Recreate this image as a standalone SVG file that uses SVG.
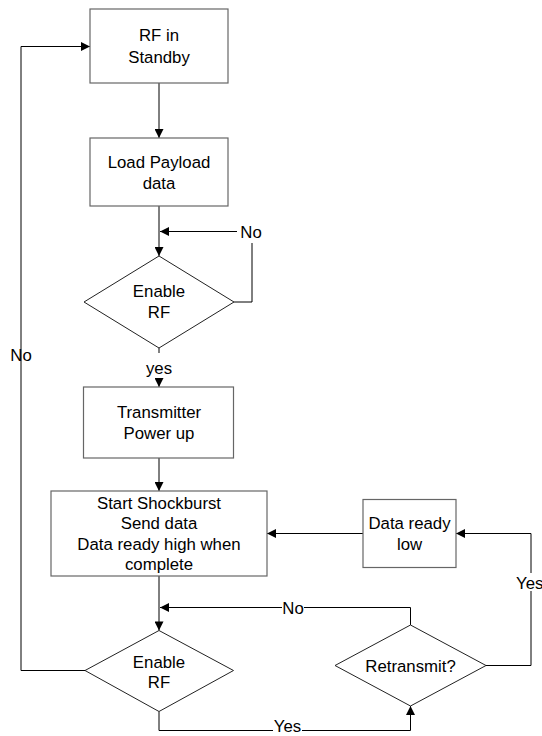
<svg xmlns="http://www.w3.org/2000/svg" width="542" height="736" viewBox="0 0 542 736">
  <style>
    .box { fill: #ffffff; stroke: #666666; stroke-width: 1.2; }
    .dia { fill: #ffffff; stroke: #222222; stroke-width: 1; }
    .wire { fill: none; stroke: #000000; stroke-width: 1; }
    text { font-family: "Liberation Sans", Arial, sans-serif; font-size: 16.8px; fill: #000000; text-anchor: middle; }
  </style>
  <defs>
    <marker id="arrow" viewBox="0 0 10 10" refX="10" refY="5" markerWidth="10" markerHeight="9" markerUnits="userSpaceOnUse" orient="auto">
      <path d="M0,0 L10,5 L0,10 z" fill="#000000"/>
    </marker>
  </defs>
  <rect width="542" height="736" fill="#ffffff"/>

  <g id="connectors">
    <!-- standby to payload -->
    <path class="wire" d="M159,83 V138" marker-end="url(#arrow)"/>
    <!-- payload to enable RF -->
    <path class="wire" d="M159,206 V256" marker-end="url(#arrow)"/>
    <!-- enable RF "No" loop -->
    <path class="wire" d="M234,302 H252 V243"/>
    <path class="wire" d="M237,231.5 H160" marker-end="url(#arrow)"/>
    <!-- enable RF yes to transmitter -->
    <path class="wire" d="M159,348 V353"/>
    <path class="wire" d="M159,379 V387" marker-end="url(#arrow)"/>
    <!-- transmitter to shockburst -->
    <path class="wire" d="M159,458 V491" marker-end="url(#arrow)"/>
    <!-- shockburst to second enable RF -->
    <path class="wire" d="M159,576 V630.5" marker-end="url(#arrow)"/>
    <!-- retransmit "No" -->
    <path class="wire" d="M410.5,625 V607.5 H304"/>
    <path class="wire" d="M282,607.5 H160" marker-end="url(#arrow)"/>
    <!-- enable RF "No" back to standby -->
    <path class="wire" d="M85,670.5 H21 V46.5 H90" marker-end="url(#arrow)"/>
    <!-- enable RF "Yes" to retransmit -->
    <path class="wire" d="M159,711.5 V730.5 H273"/>
    <path class="wire" d="M302,730.5 H410.5 V706" marker-end="url(#arrow)"/>
    <!-- retransmit "Yes" to data ready low -->
    <path class="wire" d="M486,665.5 H531 V591"/>
    <path class="wire" d="M531,573 V533.5 H456" marker-end="url(#arrow)"/>
    <!-- data ready low to shockburst -->
    <path class="wire" d="M363,533.5 H267" marker-end="url(#arrow)"/>
  </g>

  <g id="labels">
    <text x="251" y="237.5">No</text>
    <text x="159" y="374">yes</text>
    <text x="293" y="613.5">No</text>
    <text x="287.5" y="732">Yes</text>
    <text x="516" y="589" style="text-anchor:start">Yes</text>
    <text x="21" y="361">No</text>
  </g>

  <g id="rf-standby">
    <rect class="box" x="90" y="9" width="138" height="74"/>
    <text x="159" y="41">RF in</text>
    <text x="159" y="63">Standby</text>
  </g>

  <g id="load-payload">
    <rect class="box" x="90" y="138" width="138" height="68"/>
    <text x="159" y="168">Load Payload</text>
    <text x="159" y="189">data</text>
  </g>

  <g id="enable-rf-1">
    <polygon class="dia" points="159,256 234,302 159,348 84,302"/>
    <text x="159" y="297">Enable</text>
    <text x="159" y="318">RF</text>
  </g>

  <g id="transmitter">
    <rect class="box" x="83.5" y="387" width="150" height="71"/>
    <text x="159" y="418">Transmitter</text>
    <text x="159" y="439">Power up</text>
  </g>

  <g id="shockburst">
    <rect class="box" x="51" y="491" width="216" height="85"/>
    <text x="159" y="509">Start Shockburst</text>
    <text x="159" y="529">Send data</text>
    <text x="159" y="549.5">Data ready high when</text>
    <text x="159" y="570">complete</text>
  </g>

  <g id="data-ready-low">
    <rect class="box" x="363" y="499.5" width="93" height="68"/>
    <text x="409.5" y="529">Data ready</text>
    <text x="409.5" y="549.5">low</text>
  </g>

  <g id="enable-rf-2">
    <polygon class="dia" points="159,630.5 233.5,670.5 159,711.5 85,670.5"/>
    <text x="159" y="667.5">Enable</text>
    <text x="159" y="688">RF</text>
  </g>

  <g id="retransmit">
    <polygon class="dia" points="410.5,625 486,665.5 410.5,706 335,665.5"/>
    <text x="410.5" y="671.5">Retransmit?</text>
  </g>
</svg>
